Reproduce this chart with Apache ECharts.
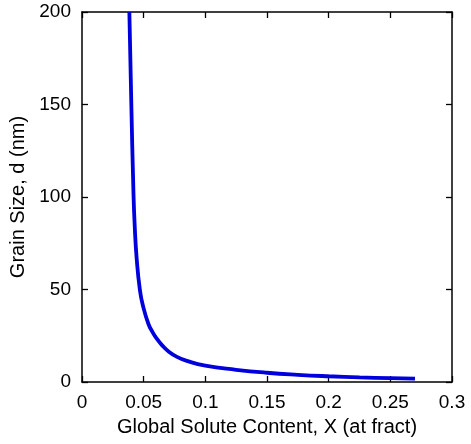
<!DOCTYPE html>
<html>
<head>
<meta charset="utf-8">
<script src="https://cdn.jsdelivr.net/npm/echarts@6/dist/echarts.min.js"></script>
<style>html,body{margin:0;padding:0;background:#fff}#c{width:471px;height:444px}</style>
</head>
<body>
<div id="c"></div>
<script>
var xValues = [0.0384, 0.0400, 0.0417, 0.0427, 0.0443, 0.0470, 0.0497, 0.0538, 0.0570, 0.0600, 0.0650, 0.0700, 0.0770, 0.0850, 0.1000, 0.1250, 0.1500, 0.1750, 0.2000, 0.2250, 0.2500, 0.2700];
var yValues = [200, 150, 103, 85, 67, 49.5, 40.5, 31.5, 27.2, 24.0, 19.8, 16.6, 13.6, 11.4, 8.8, 6.6, 5.0, 3.9, 3.1, 2.5, 2.1, 1.8];
var xTicks = ['0', '0.05', '0.1', '0.15', '0.2', '0.25', '0.3'];
var yTicks = ['0', '50', '100', '150', '200'];
var xTitle = 'Global Solute Content, X (at fract)';
var yTitle = 'Grain Size, d (nm)';

var data = xValues.map(function (x, i) { return [x, yValues[i]]; });
var font = 'Liberation Sans, Arial, sans-serif';
var chart = echarts.init(document.getElementById('c'));
var axisLine = { show: true, onZero: false, lineStyle: { color: '#000', width: 1.5 } };
var tick = { show: true, inside: true, length: 6, lineStyle: { color: '#000', width: 1.3 } };
chart.setOption({
  animation: false,
  grid: { left: 82, right: 19, top: 12, bottom: 62 },
  xAxis: [{
    type: 'value', min: 0, max: 0.3, interval: 0.05,
    axisLine: axisLine, axisTick: tick, splitLine: { show: false },
    axisLabel: { margin: 11, color: '#000', fontSize: 19, fontFamily: font,
      formatter: function (v) { var i = Math.round(v / 0.05); return xTicks[i]; } },
    name: xTitle, nameLocation: 'middle', nameGap: 35,
    nameTextStyle: { color: '#000', fontSize: 20, fontFamily: font }
  }, {
    type: 'value', position: 'top', min: 0, max: 0.3, interval: 0.05,
    axisLine: axisLine, axisTick: tick, axisLabel: { show: false }, splitLine: { show: false }
  }],
  yAxis: [{
    type: 'value', min: 0, max: 200, interval: 50,
    axisLine: axisLine, axisTick: tick, splitLine: { show: false },
    axisLabel: { margin: 11, color: '#000', fontSize: 19, fontFamily: font,
      formatter: function (v) { return yTicks[Math.round(v / 50)]; } },
    name: yTitle, nameLocation: 'middle', nameGap: 51,
    nameTextStyle: { color: '#000', fontSize: 20, fontFamily: font }
  }, {
    type: 'value', position: 'right', min: 0, max: 200, interval: 50,
    axisLine: axisLine, axisTick: tick, axisLabel: { show: false }, splitLine: { show: false }
  }],
  series: [{
    type: 'line', data: data, showSymbol: false, smooth: 0.5,
    lineStyle: { color: '#0000dd', width: 3.8 }, clip: true
  }]
});
</script>
</body>
</html>
